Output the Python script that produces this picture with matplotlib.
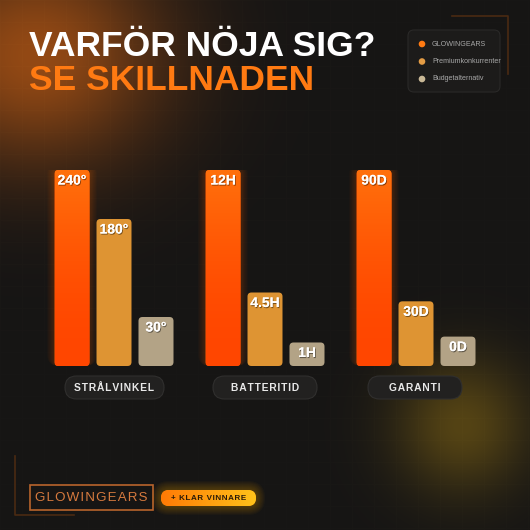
import numpy as np
import matplotlib
matplotlib.use("Agg")
import matplotlib.pyplot as plt
from matplotlib.patches import FancyBboxPatch, Circle
from matplotlib.colors import to_rgb
import matplotlib.patheffects as pe

# ---- data ----
categories = ["STRÅLVINKEL", "BATTERITID", "GARANTI"]
series = ["GLOWINGEARS", "Premiumkonkurrenter", "Budgetalternativ"]
value_labels = [["240°", "180°", "30°"],
                ["12H", "4.5H", "1H"],
                ["90D", "30D", "0D"]]
# bar heights as shown (percent of the tallest bar in each group)
heights = [[100, 75, 25],
           [100, 37.5, 12],
           [100, 33, 15]]
colors = ["#ff5a05", "#de9433", "#b3a386"]

W = H = 530
fig = plt.figure(figsize=(5.3, 5.3), dpi=100)

# ---- background ----
bg = fig.add_axes([0, 0, 1, 1])
bg.set_xlim(0, W); bg.set_ylim(H, 0); bg.axis("off")
yy, xx = np.mgrid[0:H, 0:W].astype(float)
img = np.zeros((H, W, 3))
img[:] = np.array([22, 21, 20]) / 255
d1 = np.hypot((xx - 35) / 1.15, yy - 55)
g1 = np.exp(-(d1 / 110) ** 2)
img += g1[..., None] * np.array([125, 52, 0]) / 255
d2 = np.hypot(xx - 462, yy - 425)
g2 = np.exp(-(d2 / 68) ** 2)
img += g2[..., None] * np.array([62, 46, 0]) / 255
# faint grid
grid = ((xx % 22) < 1) | ((yy % 22) < 1)
img += grid[..., None] * 0.007
img = np.clip(img, 0, 1)
bg.imshow(img, extent=(0, W, H, 0), zorder=0, interpolation="bilinear")

# title
bg.text(29, 56, "VARFÖR NÖJA SIG?", color="white", fontsize=25.5,
        fontweight="bold", family="Liberation Sans", va="baseline", zorder=5)
bg.text(29, 89.5, "SE SKILLNADEN", color="#ff7a12", fontsize=25.5,
        fontweight="bold", family="Liberation Sans", va="baseline", zorder=5)

# top-right bracket
bg.plot([452, 508, 508], [16, 16, 74], color="#4a2a12", lw=1.2, zorder=3)
# bottom-left bracket
bg.plot([15, 15, 74], [456, 515, 515], color="#4a2a12", lw=1.2, zorder=3)

# legend box
bg.add_patch(FancyBboxPatch((408, 30), 92, 62, boxstyle="round,pad=0,rounding_size=6",
                            fc="#1c1b1a", ec="#2a2928", lw=0.8, zorder=3))
for i, (s, c) in enumerate(zip(series, ["#ff7a12", "#e39c45", "#c9b896"])):
    y = 44 + i * 17.5
    bg.add_patch(Circle((422, y), 3.3, fc=c, ec="none", zorder=4))
    bg.text(432, y, s, color="#a8a8a8", fontsize=5.1, family="Liberation Sans",
            va="center", ha="left", zorder=4)

# category pills
def spaced(s, sep="\u200a"):
    return sep.join(s)

pill_x = [(65, 164), (213, 317), (368, 462)]
for (x0, x1), cat in zip(pill_x, categories):
    bg.add_patch(FancyBboxPatch((x0, 376), x1 - x0, 23,
                                boxstyle="round,pad=0,rounding_size=11.5",
                                fc="#222120", ec="#302f2e", lw=0.8, zorder=3))
    bg.text((x0 + x1) / 2, 388, spaced(cat), color="#e8e8e8", fontsize=7.4,
            fontweight="bold", family="Liberation Sans",
            ha="center", va="center", zorder=4)

# bottom brand box
bg.add_patch(FancyBboxPatch((30, 485), 123, 25, boxstyle="square,pad=0",
                            fc="#161514", ec="#b8642c", lw=1.2, zorder=3))
bg.text(91.5, 498, spaced("GLOWINGEARS"), color="#d77a3e", fontsize=9.6,
        family="Liberation Sans", ha="center", va="center", zorder=4)
# klar vinnare pill with glow
for k in range(9, 0, -1):
    bg.add_patch(FancyBboxPatch((161 - k, 490 - k), 95 + 2 * k, 16 + 2 * k,
                                boxstyle="round,pad=0,rounding_size=%f" % (8 + k),
                                fc="#ffb000", ec="none", alpha=0.03, zorder=3))
pill = FancyBboxPatch((161, 490), 95, 16, boxstyle="round,pad=0,rounding_size=8",
                      fc="#ff9a10", ec="none", zorder=4)
bg.add_patch(pill)
grad = np.linspace(0, 1, 100)[None, :]
c0, c1 = np.array(to_rgb("#ff7a05")), np.array(to_rgb("#ffc21a"))
gimg = c0 + (c1 - c0) * grad[..., None]
im = bg.imshow(gimg, extent=(161, 256, 506, 490), zorder=4.5, aspect="auto")
im.set_clip_path(pill)
bg.text(208.5, 498.3, spaced("+ KLAR VINNARE"), color="#2a1a08", fontsize=5.8,
        fontweight="bold", family="Liberation Sans",
        ha="center", va="center", zorder=5)

# ---- bar axes ----
base_px, top_px = 366, 170
ax = fig.add_axes([0, (H - base_px) / H, 1, (base_px - top_px) / H])
ax.set_facecolor("none")
ax.axis("off")
unit = 151.0
ax.set_xlim(-114 / unit, (W - 114) / unit)
ax.set_ylim(0, 100)
offs = 42 / unit
bw = 35 / unit
ppx_y = (base_px - top_px) / 100.0  # px per y unit
rad_x = 4 / unit
asp = (4 / ppx_y) / rad_x

shadow = [pe.withSimplePatchShadow(offset=(0.6, -0.8), shadow_rgbFace="black", alpha=0.45),
          pe.Normal()]

for gi in range(len(categories)):
    xs = [gi + (j - 1) * offs for j in range(3)]
    bars = ax.bar(xs, heights[gi], width=bw, color=colors, zorder=2)
    for j, b in enumerate(bars):
        x0, w, h = b.get_x(), b.get_width(), b.get_height()
        b.set_visible(False)
        if j == 0:
            # soft glow
            for k in range(6, 0, -1):
                gx = k * 1.2 / unit
                gy = k * 1.2 / ppx_y
                ax.add_patch(FancyBboxPatch((x0 - gx, 0), w + 2 * gx, h + gy,
                             boxstyle="round,pad=0,rounding_size=%f" % (rad_x + gx),
                             mutation_aspect=asp, fc="#ff6a00", ec="none",
                             alpha=0.035, zorder=1))
        p = FancyBboxPatch((x0, 0), w, h, boxstyle="round,pad=0,rounding_size=%f" % rad_x,
                           mutation_aspect=asp, fc=colors[j], ec="none", zorder=2)
        ax.add_patch(p)
        if j == 0:
            t = np.linspace(0, 1, 100)[:, None]
            ca = np.array(to_rgb("#ff700c")); cb = np.array(to_rgb("#ff4600"))
            gi_img = ca + (cb - ca) * np.sin(np.pi * t[..., None] * 0.5)
            gi_img = np.repeat(gi_img, 2, axis=1)
            im = ax.imshow(gi_img, extent=(x0, x0 + w, 0, h), origin="upper",
                           aspect="auto", zorder=2.5)
            im.set_clip_path(p)
        ty = h - 3.5 / ppx_y
        ax.text(x0 + w / 2, ty, value_labels[gi][j], color="white",
                fontsize=10, fontweight="bold", family="Liberation Sans",
                ha="center", va="top", zorder=4, path_effects=shadow)

ax.set_xlim(-114 / unit, (W - 114) / unit)
ax.set_ylim(0, 100)
fig.savefig("out.png", dpi=100, facecolor="#151413")
